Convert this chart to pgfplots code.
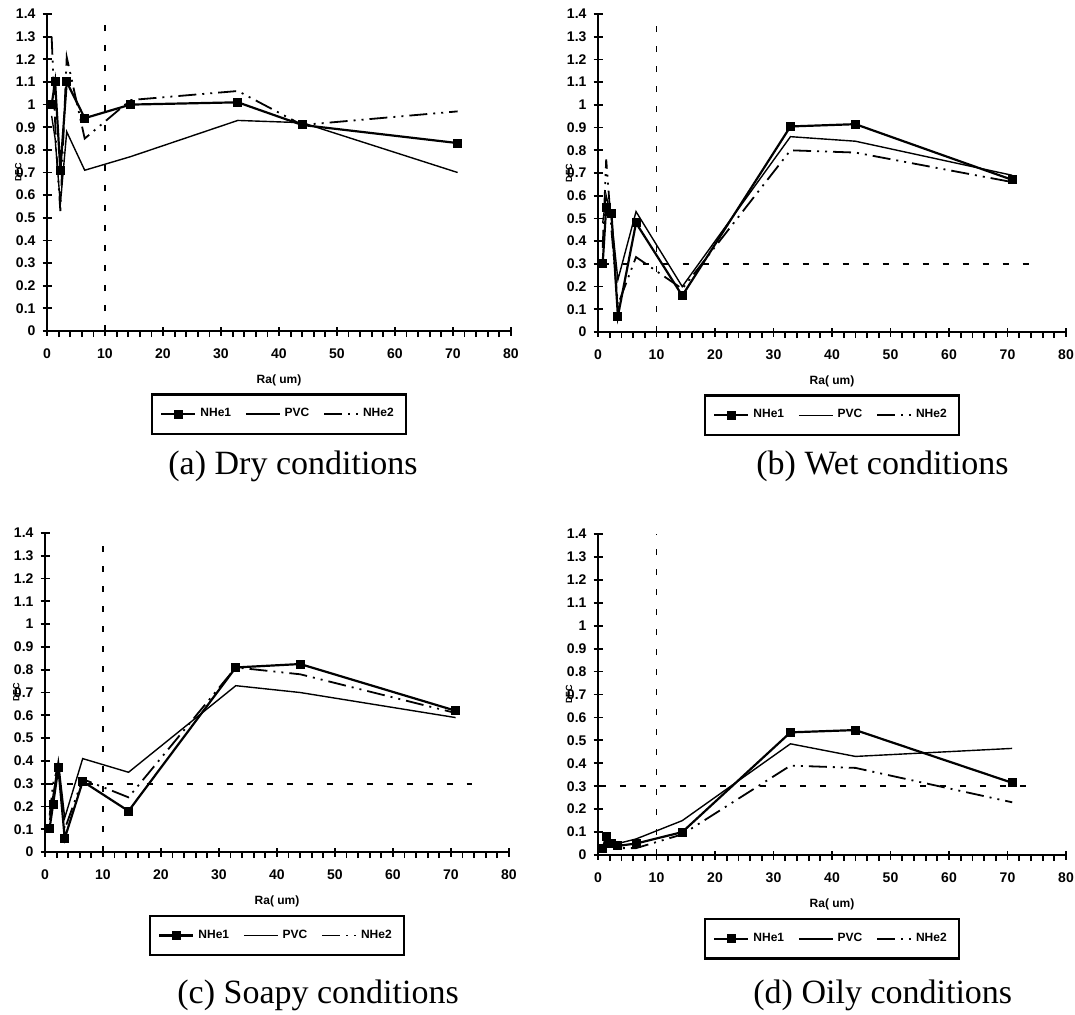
\documentclass[border=0pt]{standalone}
\usepackage{fontspec}
\setmainfont{Liberation Serif}
\newfontfamily\chartfont{Liberation Sans}
\usepackage{pgfplots}
\pgfplotsset{compat=1.18}

\newcommand\tickfont{\chartfont\bfseries\fontsize{7}{8}\selectfont}
\newcommand\smallfont{\chartfont\bfseries\fontsize{6}{7}\selectfont}

\pgfplotsset{
  dfcpanel/.style={
    scale only axis,
    xmin=0, xmax=80, ymin=0, ymax=1.4,
    axis x line*=bottom, axis y line*=left,
    axis line style={line width=1.1pt},
    xtick={0,10,20,30,40,50,60,70,80},
    xticklabels={0,10,20,30,40,50,60,70,80},
    minor x tick num=4,
    ytick={0,0.1,0.2,0.3,0.4,0.5,0.6,0.7,0.8,0.9,1,1.1,1.2,1.3,1.4},
    yticklabels={0,0.1,0.2,0.3,0.4,0.5,0.6,0.7,0.8,0.9,1,1.1,1.2,1.3,1.4},
    tick align=center,
    major tick length=4.5pt, minor tick length=3pt,
    tick style={black, line width=0.9pt},
    minor x tick style={yshift=-1.5pt},
    tick label style={font=\tickfont},
    xticklabel style={yshift=-3pt},
    xlabel={Ra( um)},
    xlabel style={at={(axis description cs:0.5,-0.155)}, anchor=center, font=\smallfont},
    ylabel={DFC},
    ylabel style={at={(axis description cs:-0.062,0.5)}, anchor=center,
      font=\chartfont\bfseries\fontsize{4.5}{5}\selectfont},
    legend columns=3,
    legend style={at={(0.5,-0.196)}, anchor=north, draw=black, line width=1.2pt,
      font=\smallfont, inner xsep=4pt, inner ysep=5pt,
      /tikz/every even column/.append style={column sep=5pt}},
    legend image code/.code={\draw[mark repeat=2,mark phase=2,#1]
      plot coordinates {(0pt,0pt) (8.5pt,0pt) (17pt,0pt)};},
    clip=false,
  },
  nhe1/.style={black, line width=1.1pt, mark=square*, mark size=1.7pt, mark options={solid}},
  pvc/.style={black, line width=0.7pt, mark=none},
  nhe2/.style={black, line width=0.9pt, mark=none,
    dash pattern=on 9pt off 3pt on 1pt off 3pt on 1pt off 3pt},
  refline/.style={black, line width=0.9pt, dash pattern=on 3pt off 7pt, forget plot},
}

\begin{document}
\begin{tikzpicture}
\useasboundingbox (0pt,0pt) rectangle (537.5pt,-507pt);

% (a) dry
\begin{axis}[dfcpanel, at={(23.5pt,-165.5pt)}, anchor=south west, width=232pt, height=158.5pt]
\addplot[refline] coordinates {(10,0) (10,1.4)};
\addplot[nhe1] coordinates {(0.8,1.00) (1.4,1.10) (2.3,0.71) (3.4,1.10) (6.5,0.94) (14.4,1.00) (32.9,1.01) (44,0.91) (70.8,0.83)};
\addlegendentry{NHe1}
\addplot[pvc] coordinates {(0.8,0.95) (1.4,0.85) (2.3,0.56) (3.4,0.88) (6.5,0.71) (14.4,0.77) (32.9,0.93) (44,0.92) (70.8,0.70)};
\addlegendentry{PVC}
\addplot[nhe2] coordinates {(0.8,1.30) (1.6,0.80) (2.3,0.53) (3.4,1.21) (6.5,0.85) (14.4,1.02) (32.9,1.06) (44,0.91) (70.8,0.97)};
\addlegendentry{NHe2}
\end{axis}

% (b) wet
\begin{axis}[dfcpanel, at={(299pt,-166pt)}, anchor=south west, width=234pt, height=159pt]
\addplot[refline] coordinates {(10,0) (10,1.4)};
\addplot[refline] coordinates {(0.8,0.3) (74,0.3)};
\addplot[nhe1] coordinates {(0.8,0.30) (1.4,0.55) (2.3,0.52) (3.4,0.07) (6.5,0.48) (14.4,0.16) (32.9,0.905) (44,0.915) (70.8,0.67)};
\addlegendentry{NHe1}
\addplot[pvc] coordinates {(0.8,0.48) (1.4,0.60) (2.3,0.50) (3.4,0.23) (6.5,0.53) (14.4,0.20) (32.9,0.86) (44,0.84) (70.8,0.69)};
\addlegendentry{PVC}
\addplot[nhe2] coordinates {(0.8,0.37) (1.4,0.76) (2.3,0.45) (3.4,0.12) (6.5,0.33) (14.4,0.19) (32.9,0.80) (44,0.79) (70.8,0.66)};
\addlegendentry{NHe2}
\end{axis}

% (c) soapy
\begin{axis}[dfcpanel, at={(22.5pt,-426pt)}, anchor=south west, width=232pt, height=159.5pt]
\addplot[refline] coordinates {(10,0) (10,1.4)};
\addplot[refline] coordinates {(0.3,0.3) (73.7,0.3)};
\addplot[nhe1] coordinates {(0.8,0.105) (1.4,0.21) (2.3,0.37) (3.4,0.06) (6.5,0.31) (14.4,0.18) (32.9,0.81) (44,0.825) (70.8,0.62)};
\addlegendentry{NHe1}
\addplot[pvc] coordinates {(0.8,0.14) (1.4,0.25) (2.3,0.40) (3.4,0.15) (6.5,0.41) (14.4,0.35) (32.9,0.73) (44,0.70) (70.8,0.59)};
\addlegendentry{PVC}
\addplot[nhe2] coordinates {(0.8,0.16) (1.4,0.30) (2.3,0.38) (3.4,0.10) (6.5,0.32) (14.4,0.24) (32.9,0.81) (44,0.78) (70.8,0.61)};
\addlegendentry{NHe2}
\end{axis}

% (d) oily
\begin{axis}[dfcpanel, at={(299pt,-427.5pt)}, anchor=south west, width=234pt, height=160.5pt]
\addplot[refline] coordinates {(10,0) (10,1.4)};
\addplot[refline] coordinates {(0.3,0.3) (74,0.3)};
\addplot[nhe1] coordinates {(0.8,0.03) (1.4,0.08) (2.3,0.05) (3.4,0.04) (6.5,0.05) (14.4,0.10) (32.9,0.535) (44,0.545) (70.8,0.315)};
\addlegendentry{NHe1}
\addplot[pvc] coordinates {(0.8,0.02) (1.4,0.05) (2.3,0.04) (3.4,0.05) (6.5,0.07) (14.4,0.15) (32.9,0.485) (44,0.43) (70.8,0.465)};
\addlegendentry{PVC}
\addplot[nhe2] coordinates {(0.8,0.01) (1.4,0.06) (2.3,0.03) (3.4,0.03) (6.5,0.03) (14.4,0.09) (32.9,0.39) (44,0.38) (70.8,0.23)};
\addlegendentry{NHe2}
\end{axis}

\begin{scope}[every node/.style={anchor=base west, inner sep=0pt, font=\fontsize{17}{20}\selectfont}]
\node at (84pt,-237pt) {(a) Dry conditions};
\node at (378pt,-237pt) {(b) Wet conditions};
\node at (88.5pt,-501.5pt) {(c) Soapy conditions};
\node at (376.5pt,-501.5pt) {(d) Oily conditions};
\end{scope}
\end{tikzpicture}
\end{document}
